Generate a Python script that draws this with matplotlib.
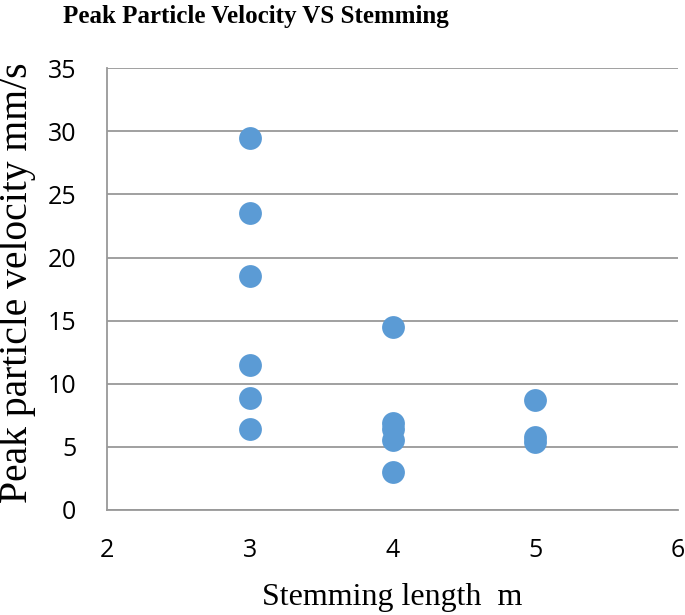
import matplotlib.pyplot as plt

# stemming length (m) and peak particle velocity (mm/s)
stemming = [3, 3, 3, 3, 3, 3, 4, 4, 4, 4, 4, 5, 5, 5]
ppv = [29.5, 23.5, 18.5, 11.5, 8.9, 6.4, 14.5, 6.9, 6.4, 5.5, 3.0, 8.7, 5.8, 5.4]

x_ticks = [2, 3, 4, 5, 6]
y_ticks = [0, 5, 10, 15, 20, 25, 30, 35]

W, H = 685, 615
fig = plt.figure(figsize=(W / 100, H / 100), dpi=100)
ax = fig.add_axes([0.156, 0.171, 0.834, 0.718])

ax.scatter(stemming, ppv, s=270, c='#5B9BD5', zorder=3, linewidths=0)

ax.set_xlim(2, 6)
ax.set_ylim(0, 35)
ax.set_xticks(x_ticks)
ax.set_yticks(y_ticks)
ax.yaxis.grid(True, color='#999999', linewidth=1.3)
ax.set_axisbelow(True)
for side in ['top', 'right']:
    ax.spines[side].set_visible(False)
for side in ['left', 'bottom']:
    ax.spines[side].set_color('#999999')
    ax.spines[side].set_linewidth(1.3)
ax.tick_params(length=0, labelsize=18)
ax.tick_params(axis='y', pad=22)
ax.tick_params(axis='x', pad=20)
for lbl in ax.get_xticklabels() + ax.get_yticklabels():
    lbl.set_family('Open Sans')

fig.text(392 / W, 1 - 598 / H, "Stemming length  m", family='Liberation Serif',
         fontsize=23, ha='center', va='center')
fig.text(18 / W, 1 - 283 / H, "Peak particle velocity mm/s", family='Liberation Serif',
         fontsize=28.5, rotation=90, ha='center', va='center')
fig.text(256 / W, 1 - 16 / H, "Peak Particle Velocity VS Stemming", family='Liberation Serif',
         fontsize=18, fontweight='bold', ha='center', va='center')

fig.savefig('out.png', dpi=100)
